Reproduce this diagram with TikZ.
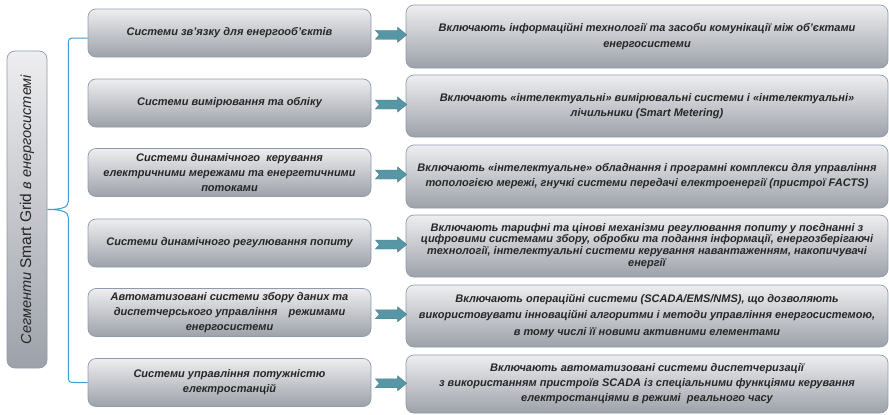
\documentclass[tikz,border=0pt]{standalone}
\usepackage{fontspec}
\setmainfont{Liberation Sans}
\usetikzlibrary{calc}
\definecolor{boxedge}{HTML}{8D9BAD}
\definecolor{gtop}{HTML}{EEEEF0}
\definecolor{gbot}{HTML}{9DA1A9}
\definecolor{txt}{HTML}{262626}
\definecolor{bracecol}{HTML}{3A9FD0}
\definecolor{arrfill}{HTML}{5796A5}
\definecolor{arredge}{HTML}{4A7F8C}
\newcommand\linkarrow[2]{%
  \filldraw[linkarr] let \p1=(#1.east), \p2=(#2.west), \p3=($(\p1)!0.5!(\p2)$) in
    (\x1+4pt,\y3+4.5pt) -- (\x2-8pt,\y3+4.5pt) -- (\x2-8pt,\y3+7.5pt) -- (\x2+1pt,\y3)
    -- (\x2-8pt,\y3-7.5pt) -- (\x2-8pt,\y3-4.5pt) -- (\x1+4pt,\y3-4.5pt) -- (\x1+8pt,\y3) -- cycle;}
\begin{document}
\begin{tikzpicture}[x=1pt,y=-1pt,
  box/.style={draw=boxedge, line width=0.7pt, rounded corners=8pt, top color=gtop, bottom color=gbot,
    font=\bfseries\itshape\fontsize{11}{13.5}\selectfont, text=txt, align=center, inner sep=2pt},
  tightlines/.style={font=\bfseries\itshape\fontsize{11}{11.7}\selectfont},
  lbox/.style={box, minimum width=283pt, minimum height=48pt},
  rbox/.style={box, minimum width=482pt},
  vbox/.style={box, font=\itshape\fontsize{14.5}{16}\selectfont, text=txt},
  brace/.style={draw=bracecol, line width=1pt},
  linkarr/.style={fill=arrfill, draw=arredge, line width=0.4pt}
]
\useasboundingbox (0,0) rectangle (889,415);

\node[vbox, rotate=90, minimum width=317pt, minimum height=40pt] (V) at (27,209.5)
  {Сегменти {\upshape\fontsize{15.5}{16}\selectfont Smart Grid} в енергосистемі};

\node[lbox] (L1) at (229.5,33) {Системи зв'язку для енергооб'єктів};
\node[lbox] (L2) at (229.5,103) {Системи вимірювання та обліку};
\node[lbox] (L3) at (229.5,172.5) {Системи динамічного\ \ керування\\[1.5pt]електричними мережами та енергетичними\\[1.5pt]потоками};
\node[lbox] (L4) at (229.5,243) {Системи динамічного регулювання попиту};
\node[lbox] (L5) at (229.5,312.5) {Автоматизовані системи збору даних та\\[1.5pt]диспетчерського управління\quad режимами\\[1.5pt]енергосистеми};
\node[lbox] (L6) at (229.5,382.5) {Системи управління потужністю\\[1.5pt]електростанцій};

\node[rbox, minimum height=63pt] (R1) at (647,36.5) {Включають інформаційні технології та засоби комунікації між об'єктами\\[3pt]енергосистеми};
\node[rbox, minimum height=62pt] (R2) at (647,106) {Включають «інтелектуальні» вимірювальні системи і «інтелектуальні»\\[1.5pt]лічильники (Smart Metering)};
\node[rbox, minimum height=63pt] (R3) at (647,176.5) {Включають «інтелектуальне» обладнання і програмні комплекси для управління\\[1.5pt]топологією мережі, гнучкі системи передачі електроенергії (пристрої FACTS)};
\node[rbox, tightlines, minimum height=62pt] (R4) at (647,246) {Включають тарифні та цінові механізми регулювання попиту у поєднанні з\\цифровими системами збору, обробки та подання інформації, енергозберігаючі\\технології, інтелектуальні системи керування навантаженням, накопичувачі\\енергії};
\node[rbox, minimum height=62pt] (R5) at (647,316) {Включають операційні системи (SCADA/EMS/NMS), що дозволяють\\[3pt]використовувати інноваційні алгоритми і методи управління енергосистемою,\\[3pt]в тому числі її новими активними елементами};
\node[rbox, minimum height=58pt] (R6) at (647,384) {Включають автоматизовані системи диспетчеризації\\[1.5pt]з використанням пристроїв SCADA із спеціальними функціями керування\\[1.5pt]електростанціями в режимі\ \ реального часу};

\linkarrow{L1}{R1}
\linkarrow{L2}{R2}
\linkarrow{L3}{R3}
\linkarrow{L4}{R4}
\linkarrow{L5}{R5}
\linkarrow{L6}{R6}

\draw[brace] let \p1=($(L1.west)+(0,5)$), \p2=(V.south), \p3=(L6.west) in
  (\p1) -- (\x2+29pt,\y1) .. controls (\x2+21pt,\y1) and (\x2+21pt,\y1) .. (\x2+21pt,\y1-8pt)
  -- (\x2+21pt,\y2+8pt) .. controls (\x2+21pt,\y2+2pt) and (\x2+14pt,\y2) .. (\p2)
  .. controls (\x2+14pt,\y2) and (\x2+21pt,\y2-2pt) .. (\x2+21pt,\y2-8pt)
  -- (\x2+21pt,\y3+8pt) .. controls (\x2+21pt,\y3) and (\x2+21pt,\y3) .. (\x2+29pt,\y3) -- (\p3);
\end{tikzpicture}
\end{document}
